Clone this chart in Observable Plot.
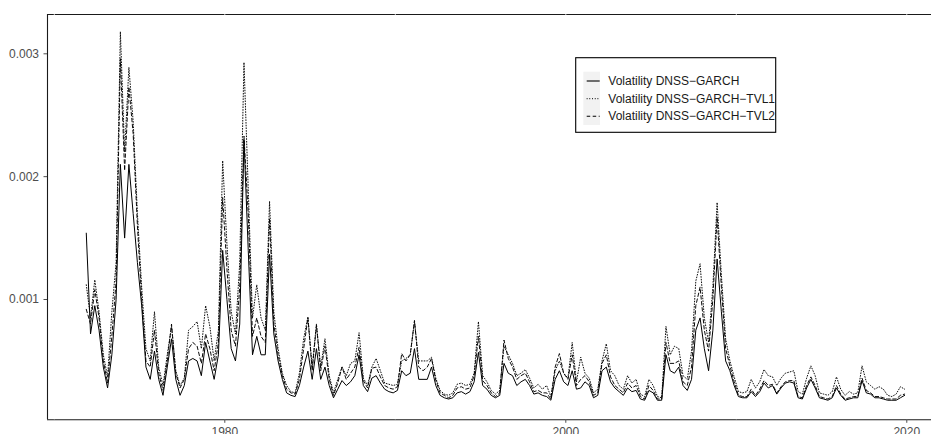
<!DOCTYPE html>
<html>
<head>
<meta charset="utf-8">
<script src="https://cdn.jsdelivr.net/npm/d3@7"></script>
<script src="https://cdn.jsdelivr.net/npm/@observablehq/plot@0.6"></script>
<style>
  html, body { margin: 0; padding: 0; background: #fff; overflow: hidden; }
  #chart { position: relative; width: 931px; height: 434px; overflow: hidden; }
</style>
</head>
<body>
<div id="chart"></div>
<script>
// Quarterly observations, first one at 1971.875 (years as decimal numbers)
const firstDate = 1971.875;
const stepYears = 0.25;

// Volatility DNSS-GARCH (solid)
const garch = [
  0.00154,
  0.00072, 0.00095, 0.00075, 0.00045,
  0.00028, 0.00055, 0.00100, 0.00210,
  0.00150, 0.00210, 0.00170, 0.00130,
  0.00095, 0.00045, 0.00035, 0.00058,
  0.00035, 0.00022, 0.00045, 0.00068,
  0.00035, 0.00022, 0.00030, 0.00050,
  0.00052, 0.00050, 0.00038, 0.00065,
  0.00050, 0.00035, 0.00055, 0.00140,
  0.00100, 0.00060, 0.00050, 0.00080,
  0.00230, 0.00140, 0.00055, 0.00070,
  0.00055, 0.00055, 0.00137, 0.00072,
  0.00050, 0.00035, 0.00024, 0.00022,
  0.00021, 0.00030, 0.00045, 0.00058,
  0.00035, 0.00060, 0.00035, 0.00045,
  0.00030, 0.00020, 0.00027, 0.00034,
  0.00030, 0.00033, 0.00038, 0.00055,
  0.00030, 0.00025, 0.00036, 0.00038,
  0.00032, 0.00027, 0.00025, 0.00024,
  0.00026, 0.00042, 0.00038, 0.00040,
  0.00060, 0.00035, 0.00035, 0.00035,
  0.00045, 0.00030, 0.00022, 0.00020,
  0.00019, 0.00020, 0.00024, 0.00025,
  0.00023, 0.00025, 0.00033, 0.00057,
  0.00030, 0.00027, 0.00022, 0.00020,
  0.00022, 0.00048, 0.00040, 0.00038,
  0.00030, 0.00033, 0.00035, 0.00030,
  0.00023, 0.00024, 0.00022, 0.00021,
  0.00018, 0.00035, 0.00042, 0.00033,
  0.00030, 0.00042, 0.00027, 0.00028,
  0.00033, 0.00030, 0.00020, 0.00022,
  0.00042, 0.00045, 0.00033, 0.00028,
  0.00025, 0.00022, 0.00028, 0.00025,
  0.00026, 0.00019, 0.00018, 0.00026,
  0.00024, 0.00018, 0.00018, 0.00055,
  0.00042, 0.00040, 0.00045, 0.00030,
  0.00026, 0.00035, 0.00075, 0.00085,
  0.00060, 0.00042, 0.00075, 0.00133,
  0.00090, 0.00050, 0.00042, 0.00030,
  0.00021, 0.00020, 0.00020, 0.00025,
  0.00021, 0.00025, 0.00032, 0.00028,
  0.00030, 0.00023, 0.00028, 0.00032,
  0.00033, 0.00032, 0.00020, 0.00019,
  0.00028, 0.00035, 0.00028, 0.00020,
  0.00019, 0.00018, 0.00020, 0.00028,
  0.00022, 0.00018, 0.00019, 0.00020,
  0.00020, 0.00034, 0.00024, 0.00023,
  0.00020, 0.00020, 0.00019, 0.00018,
  0.00018, 0.00018, 0.00020, 0.00022
];

// Volatility DNSS-GARCH-TVL1 (dotted)
const tvl1 = [
  0.00112,
  0.00085, 0.00116, 0.00090, 0.00055,
  0.00037, 0.00090, 0.00130, 0.00318,
  0.00220, 0.00289, 0.00245, 0.00170,
  0.00110, 0.00060, 0.00050, 0.00090,
  0.00045, 0.00030, 0.00055, 0.00078,
  0.00042, 0.00030, 0.00036, 0.00075,
  0.00078, 0.00082, 0.00060, 0.00095,
  0.00078, 0.00050, 0.00075, 0.00213,
  0.00145, 0.00090, 0.00072, 0.00130,
  0.00293, 0.00190, 0.00085, 0.00112,
  0.00085, 0.00075, 0.00180, 0.00090,
  0.00060, 0.00040, 0.00030, 0.00025,
  0.00024, 0.00040, 0.00068, 0.00086,
  0.00045, 0.00080, 0.00045, 0.00068,
  0.00038, 0.00024, 0.00035, 0.00045,
  0.00038, 0.00048, 0.00050, 0.00073,
  0.00036, 0.00030, 0.00045, 0.00052,
  0.00042, 0.00032, 0.00031, 0.00030,
  0.00031, 0.00050, 0.00052, 0.00055,
  0.00082, 0.00050, 0.00050, 0.00050,
  0.00053, 0.00036, 0.00026, 0.00023,
  0.00022, 0.00024, 0.00031, 0.00032,
  0.00030, 0.00031, 0.00040, 0.00082,
  0.00038, 0.00033, 0.00026, 0.00023,
  0.00026, 0.00062, 0.00055, 0.00048,
  0.00038, 0.00040, 0.00043, 0.00036,
  0.00028, 0.00031, 0.00027, 0.00030,
  0.00021, 0.00042, 0.00050, 0.00040,
  0.00036, 0.00065, 0.00033, 0.00053,
  0.00040, 0.00036, 0.00024, 0.00027,
  0.00050, 0.00064, 0.00042, 0.00038,
  0.00030, 0.00027, 0.00038, 0.00032,
  0.00035, 0.00023, 0.00021, 0.00035,
  0.00030, 0.00021, 0.00020, 0.00078,
  0.00055, 0.00062, 0.00060, 0.00038,
  0.00035, 0.00058, 0.00115, 0.00129,
  0.00085, 0.00065, 0.00110, 0.00179,
  0.00120, 0.00068, 0.00050, 0.00037,
  0.00025, 0.00024, 0.00025, 0.00035,
  0.00028, 0.00033, 0.00043, 0.00038,
  0.00037, 0.00030, 0.00036, 0.00040,
  0.00041, 0.00042, 0.00025, 0.00023,
  0.00036, 0.00046, 0.00038, 0.00024,
  0.00023, 0.00022, 0.00025, 0.00037,
  0.00027, 0.00022, 0.00025, 0.00023,
  0.00024, 0.00046, 0.00033, 0.00030,
  0.00027, 0.00029, 0.00027, 0.00022,
  0.00021, 0.00023, 0.00029, 0.00027
];

// Volatility DNSS-GARCH-TVL2 (dashed)
const tvl2 = [
  0.00092,
  0.00080, 0.00108, 0.00085, 0.00050,
  0.00032, 0.00070, 0.00115, 0.00296,
  0.00205, 0.00273, 0.00235, 0.00160,
  0.00100, 0.00050, 0.00045, 0.00075,
  0.00040, 0.00026, 0.00050, 0.00080,
  0.00040, 0.00028, 0.00035, 0.00060,
  0.00065, 0.00062, 0.00048, 0.00072,
  0.00060, 0.00042, 0.00065, 0.00183,
  0.00125, 0.00075, 0.00062, 0.00110,
  0.00233, 0.00170, 0.00070, 0.00085,
  0.00070, 0.00065, 0.00166, 0.00080,
  0.00055, 0.00038, 0.00027, 0.00024,
  0.00023, 0.00035, 0.00060, 0.00085,
  0.00042, 0.00079, 0.00042, 0.00062,
  0.00035, 0.00022, 0.00032, 0.00045,
  0.00035, 0.00040, 0.00045, 0.00061,
  0.00034, 0.00028, 0.00044, 0.00045,
  0.00037, 0.00030, 0.00028, 0.00027,
  0.00029, 0.00056, 0.00050, 0.00055,
  0.00083, 0.00045, 0.00042, 0.00045,
  0.00052, 0.00034, 0.00024, 0.00022,
  0.00020, 0.00022, 0.00028, 0.00029,
  0.00027, 0.00028, 0.00038, 0.00070,
  0.00034, 0.00030, 0.00024, 0.00021,
  0.00024, 0.00067, 0.00052, 0.00045,
  0.00035, 0.00038, 0.00040, 0.00033,
  0.00025, 0.00026, 0.00024, 0.00024,
  0.00019, 0.00045, 0.00056, 0.00040,
  0.00035, 0.00055, 0.00030, 0.00035,
  0.00038, 0.00033, 0.00022, 0.00024,
  0.00048, 0.00055, 0.00037, 0.00030,
  0.00027, 0.00024, 0.00032, 0.00028,
  0.00030, 0.00021, 0.00019, 0.00030,
  0.00026, 0.00019, 0.00019, 0.00065,
  0.00048, 0.00048, 0.00050, 0.00033,
  0.00030, 0.00045, 0.00095, 0.00110,
  0.00075, 0.00058, 0.00100, 0.00167,
  0.00110, 0.00060, 0.00046, 0.00033,
  0.00022, 0.00021, 0.00021, 0.00027,
  0.00022, 0.00027, 0.00034, 0.00030,
  0.00031, 0.00024, 0.00029, 0.00033,
  0.00034, 0.00034, 0.00021, 0.00020,
  0.00030, 0.00037, 0.00030, 0.00021,
  0.00020, 0.00019, 0.00021, 0.00030,
  0.00023, 0.00019, 0.00020, 0.00021,
  0.00021, 0.00036, 0.00026, 0.00024,
  0.00021, 0.00021, 0.00020, 0.00019,
  0.00019, 0.00019, 0.00022, 0.00023
];

const seriesNames = [
  "Volatility DNSS\u2212GARCH",
  "Volatility DNSS\u2212GARCH\u2212TVL1",
  "Volatility DNSS\u2212GARCH\u2212TVL2"
];
const xTicks = [1980, 2000, 2020];
const xGrid = [1970, 1980, 1990, 2000, 2010, 2020];
const yTicks = [0.001, 0.002, 0.003];

const xDomain = [1969.601, 2021.449];
const yDomain = [0.0000208, 0.00332];

const toRows = vals => vals.map((v, i) => ({date: firstDate + i * stepYears, value: v}));
const rowsG = toRows(garch), rowsT1 = toRows(tvl1), rowsT2 = toRows(tvl2);

const dashArr = [null, "0.8,1.9", "3.5,2.5"];
const plot = Plot.plot({
  width: 931,
  height: 434,
  marginLeft: 47,
  marginRight: 0,
  marginTop: 14,
  marginBottom: 14.7,
  style: {fontFamily: "'Liberation Sans', Arial, Helvetica, sans-serif", fontSize: "12px", background: "white", overflow: "visible"},
  x: {domain: xDomain, label: null},
  y: {domain: yDomain, label: null},
  marks: [
    // panel border (left, top, bottom)
    Plot.ruleX([xDomain[0]], {stroke: "#1a1a1a", strokeWidth: 1.1}),
    Plot.ruleY(yDomain, {stroke: "#1a1a1a", strokeWidth: 1.1}),
    // white grid lines (only visible where they cross the border)
    Plot.ruleX(xGrid, {stroke: "white", strokeWidth: 0.8}),
    Plot.axisX(xTicks, {tickFormat: d => String(d), tickSize: 3.5, tickPadding: 4, fontSize: 12, color: "#4d4d4d", label: null}),
    Plot.axisY(yTicks, {tickFormat: d3.format(".3f"), tickSize: 3.5, tickPadding: 5, fontSize: 12, color: "#4d4d4d", label: null}),
    Plot.line(rowsG, {x: "date", y: "value", stroke: "black", strokeWidth: 1}),
    Plot.line(rowsT1, {x: "date", y: "value", stroke: "black", strokeWidth: 0.95, strokeDasharray: dashArr[1]}),
    Plot.line(rowsT2, {x: "date", y: "value", stroke: "black", strokeWidth: 0.95, strokeDasharray: dashArr[2]})
  ]
});
document.getElementById("chart").appendChild(plot);

// Legend (inside panel, top right)
const svg = d3.select(plot);
const lg = svg.append("g").attr("transform", "translate(575.7,57.7)")
  .attr("text-anchor", "start");
lg.append("rect").attr("x", 0).attr("y", 0).attr("width", 200).attr("height", 74.6)
  .attr("fill", "white").attr("stroke", "black").attr("stroke-width", 1.1);
lg.append("rect").attr("x", 7.6).attr("y", 14).attr("width", 16.7).attr("height", 53.3).attr("fill", "#f2f2f2");
seriesNames.forEach((name, k) => {
  const cy = 23.3 + k * 17.6;
  const ln = lg.append("line").attr("x1", 11).attr("x2", 24).attr("y1", cy).attr("y2", cy)
    .attr("stroke", "black").attr("stroke-width", 1.1);
  if (dashArr[k]) ln.attr("stroke-dasharray", dashArr[k]);
  lg.append("text").attr("x", 32.6).attr("y", cy).attr("dy", "0.35em")
    .attr("text-anchor", "start")
    .attr("font-size", 12).attr("fill", "#1a1a1a").text(name);
});
</script>
</body>
</html>
